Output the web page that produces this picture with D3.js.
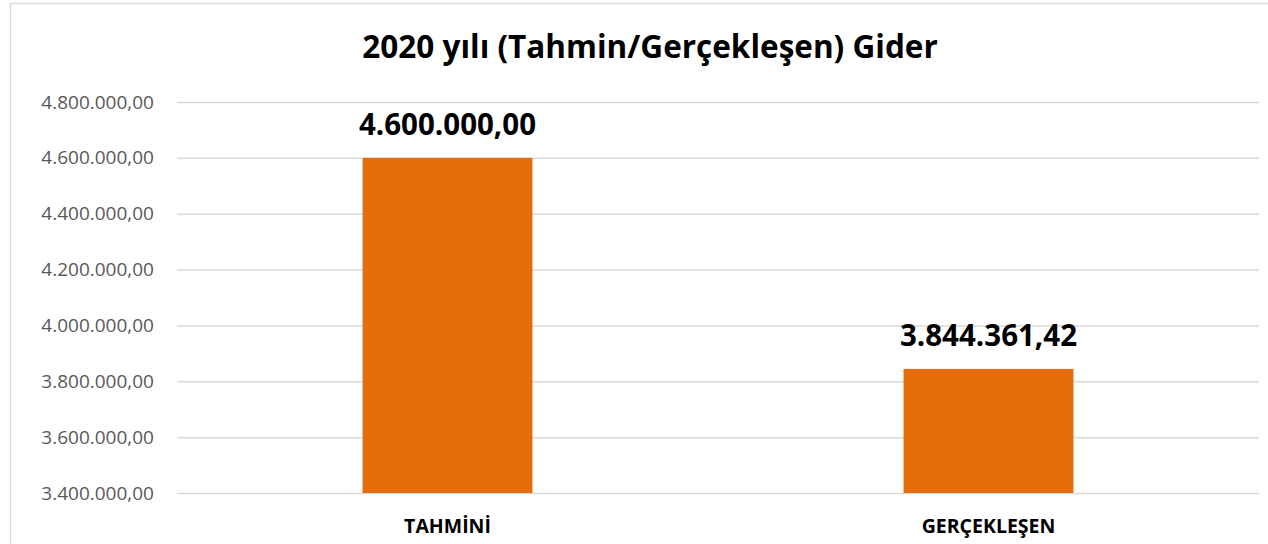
<!DOCTYPE html>
<html>
<head>
<meta charset="utf-8">
<script src="https://cdn.jsdelivr.net/npm/d3@7"></script>
<style>
  html, body { margin: 0; padding: 0; background: #fff; overflow: hidden; }
  svg { display: block; }
</style>
</head>
<body>
<svg id="chart" width="1268" height="544"></svg>
<script>
// chart data
const categories = ["TAHMİNİ", "GERÇEKLEŞEN"];
const values = [4600000, 3844361.42];
const yTicks = [3400000, 3600000, 3800000, 4000000, 4200000, 4400000, 4600000, 4800000];
const title = "2020 yılı (Tahmin/Gerçekleşen) Gider";

const FONT = '"Open Sans", Carlito, Calibri, sans-serif';
const plot = { left: 177, right: 1259, top: 102, bottom: 493 };

const svg = d3.select("#chart").attr("font-family", FONT);

// outer chart frame
svg.append("rect")
  .attr("x", 10.5).attr("y", 3.5)
  .attr("width", 1300).attr("height", 600)
  .attr("fill", "#fff")
  .attr("stroke", "#d9d9d9")
  .attr("stroke-width", 1.5);

// Turkish number format: 4.600.000,00
const trLocale = d3.formatLocale({ decimal: ",", thousands: ".", grouping: [3], currency: ["", ""] });
const fmt = trLocale.format(",.2f");

const x = d3.scaleBand()
  .domain(categories)
  .range([plot.left, plot.right])
  .paddingInner(0.686)
  .paddingOuter(0.343);

const y = d3.scaleLinear()
  .domain([3400000, 4800000])
  .range([plot.bottom, plot.top]);

// gridlines + y labels
const yAxis = d3.axisLeft(y)
  .tickValues(yTicks)
  .tickSize(-(plot.right - plot.left))
  .tickPadding(23)
  .tickFormat(fmt);

const gy = svg.append("g")
  .attr("transform", `translate(${plot.left},0)`)
  .call(yAxis)
  .attr("font-family", FONT)
  .attr("font-size", 19);
gy.select(".domain").remove();
gy.selectAll(".tick line").attr("stroke", "#d9d9d9").attr("stroke-width", 1.5);
gy.selectAll(".tick text").attr("fill", "#595959");

// bars
svg.append("g")
  .selectAll("rect")
  .data(categories)
  .join("rect")
  .attr("x", (d) => x(d))
  .attr("width", x.bandwidth())
  .attr("y", (d, i) => y(values[i]))
  .attr("height", (d, i) => y(3400000) - y(values[i]))
  .attr("fill", "#e46c0a");

// value labels
svg.append("g")
  .selectAll("text")
  .data(categories)
  .join("text")
  .attr("x", (d) => x(d) + x.bandwidth() / 2)
  .attr("y", (d, i) => y(values[i]) - 22.5)
  .attr("text-anchor", "middle")
  .attr("font-weight", "bold")
  .attr("font-size", 29.5)
  .attr("fill", "#000")
  .text((d, i) => fmt(values[i]));

// category labels
const xAxis = d3.axisBottom(x).tickSize(0).tickPadding(26);
const gx = svg.append("g")
  .attr("transform", `translate(0,${plot.bottom})`)
  .call(xAxis)
  .attr("font-family", FONT)
  .attr("font-size", 19.5);
gx.select(".domain").remove();
gx.selectAll(".tick text")
  .attr("fill", "#000")
  .attr("font-weight", "bold");

// title
svg.append("text")
  .attr("x", 650)
  .attr("y", 58)
  .attr("text-anchor", "middle")
  .attr("font-weight", "bold")
  .attr("font-size", 31.5)
  .attr("fill", "#000")
  .text(title);
</script>
</body>
</html>
